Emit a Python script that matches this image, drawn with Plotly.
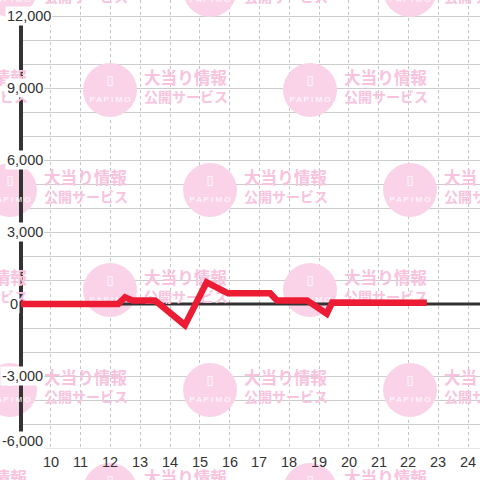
import plotly.graph_objects as go

# ---- data ----
x_vals = [9.0, 12.26, 12.49, 12.74, 13.50, 14.50, 15.23, 15.95, 17.36, 17.59, 18.60, 19.26, 19.44, 22.62]
y_vals = [0, 0, 280, 150, 150, -880, 900, 445, 445, 150, 150, -400, 60, 50]
x_ticks = list(range(10, 25))
x_tick_labels = [str(t) for t in x_ticks]
y_grid = list(range(-6000, 12001, 1000))
y_label_vals = [12000, 9000, 6000, 3000, 0, -3000, -6000]
y_label_text = ["12,000", "9,000", "6,000", "3,000", "0", "-3,000", "-6,000"]
wm_line1 = "大当り情報"
wm_line2 = "公開サービス"
wm_logo = "P A P I M O"
wm_icon = "▯"

# ---- geometry ----
W = H = 480
XMIN, XMAX = 10 - 50.8 / 29.8, 10 + (W - 50.8) / 29.8
YMAX, YMIN = 304 / 24 * 1000, -(H - 304) / 24 * 1000
X_AXIS_AT = 9.0
Y_BOTTOM, Y_TOP = -6000, 12000


def xpx(p):
    return XMIN + p / W * (XMAX - XMIN)


def ypx(p):
    return YMAX - p / H * (YMAX - YMIN)


FONT = "Liberation Sans, Arial, sans-serif"
CJK = "Noto Sans CJK JP"
PINK_FILL = "#fbd3e9"
PINK_TEXT = "#f7c3de"

fig = go.Figure()

shapes = []
# masks (hide grid outside the drawn chart area)
shapes.append(dict(type="rect", xref="x", yref="y", x0=XMIN, x1=X_AXIS_AT, y0=YMIN, y1=YMAX,
                   fillcolor="white", line=dict(width=0), layer="between"))
shapes.append(dict(type="rect", xref="x", yref="y", x0=XMIN, x1=XMAX, y0=YMIN, y1=Y_BOTTOM - 21,
                   fillcolor="white", line=dict(width=0), layer="between"))

# watermark tiles
tiles = []
for row_i, cy in enumerate([-10, 90, 190, 290, 390, 490]):
    xs = [10, 210, 410] if row_i % 2 == 0 else [-90, 110, 310]
    for cx in xs:
        tiles.append((cx, cy))

R = 27
for cx, cy in tiles:
    shapes.append(dict(type="circle", xref="x", yref="y",
                       x0=xpx(cx - R), x1=xpx(cx + R), y0=ypx(cy + R), y1=ypx(cy - R),
                       fillcolor=PINK_FILL, line=dict(width=0), layer="between"))

# axis lines
shapes.append(dict(type="line", xref="x", yref="y", x0=X_AXIS_AT, x1=XMAX, y0=0, y1=0,
                   line=dict(color="#333333", width=3), layer="between"))
shapes.append(dict(type="line", xref="x", yref="y", x0=X_AXIS_AT, x1=X_AXIS_AT, y0=Y_BOTTOM, y1=Y_TOP,
                   line=dict(color="#333333", width=4), layer="between"))

# watermark texts
fig.add_trace(go.Scatter(
    x=[xpx(cx + 34) for cx, cy in tiles], y=[ypx(cy - 10) for cx, cy in tiles],
    mode="text", text=[wm_line1] * len(tiles), textposition="middle right",
    textfont=dict(family=CJK, size=16.6, color=PINK_TEXT, weight="bold"),
    hoverinfo="skip", showlegend=False))
fig.add_trace(go.Scatter(
    x=[xpx(cx + 34) for cx, cy in tiles], y=[ypx(cy + 8.5) for cx, cy in tiles],
    mode="text", text=[wm_line2] * len(tiles), textposition="middle right",
    textfont=dict(family=CJK, size=14, color=PINK_TEXT, weight="bold"),
    hoverinfo="skip", showlegend=False))
fig.add_trace(go.Scatter(
    x=[xpx(cx) for cx, cy in tiles], y=[ypx(cy - 9) for cx, cy in tiles],
    mode="text", text=[wm_icon] * len(tiles), textposition="middle center",
    textfont=dict(family="DejaVu Sans", size=13, color="white"),
    hoverinfo="skip", showlegend=False))
fig.add_trace(go.Scatter(
    x=[xpx(cx) for cx, cy in tiles], y=[ypx(cy + 9.5) for cx, cy in tiles],
    mode="text", text=[wm_logo] * len(tiles), textposition="middle center",
    textfont=dict(family=FONT, size=8, color="white"),
    hoverinfo="skip", showlegend=False))

# main series
fig.add_trace(go.Scatter(
    x=x_vals, y=y_vals, mode="lines",
    line=dict(color="#ec1c34", width=6.5),
    hoverinfo="skip", showlegend=False))

annotations = []
for v, t in zip(y_label_vals, y_label_text):
    if v == 12000:
        ax, anc, ys = xpx(5), "left", 0
    elif v == 0:
        ax, anc, ys = xpx(8), "left", 0
    else:
        ax, anc, ys = xpx(45), "right", 0
    if v == -6000:
        ys = 7.5
    annotations.append(dict(x=ax, y=v, xref="x", yref="y", text=t, showarrow=False,
                            xanchor=anc, yanchor="middle", yshift=ys,
                            bgcolor="white", borderpad=1,
                            font=dict(family=FONT, size=14.5, color="#333333")))
for v, t in zip(x_ticks, x_tick_labels):
    annotations.append(dict(x=v, y=ypx(461.5), xref="x", yref="y", text=t, showarrow=False,
                            xanchor="center", yanchor="middle",
                            font=dict(family=FONT, size=14.5, color="#333333")))

fig.update_layout(
    width=W, height=H, autosize=False,
    margin=dict(l=0, r=0, t=0, b=0, pad=0),
    paper_bgcolor="white", plot_bgcolor="white",
    shapes=shapes, annotations=annotations,
    xaxis=dict(range=[XMIN, XMAX], tickvals=x_ticks, showticklabels=False, ticks="",
               showgrid=True, gridcolor="#c4c4c4", gridwidth=1, griddash="dot",
               zeroline=False, showline=False, fixedrange=True),
    yaxis=dict(range=[YMIN, YMAX], tickvals=y_grid, showticklabels=False, ticks="",
               showgrid=True, gridcolor="#cccccc", gridwidth=1,
               zeroline=False, showline=False, fixedrange=True),
)

fig.write_html("out.html", config={"displayModeBar": False},
               post_script="document.body.style.margin='0';document.body.style.overflow='hidden';")
